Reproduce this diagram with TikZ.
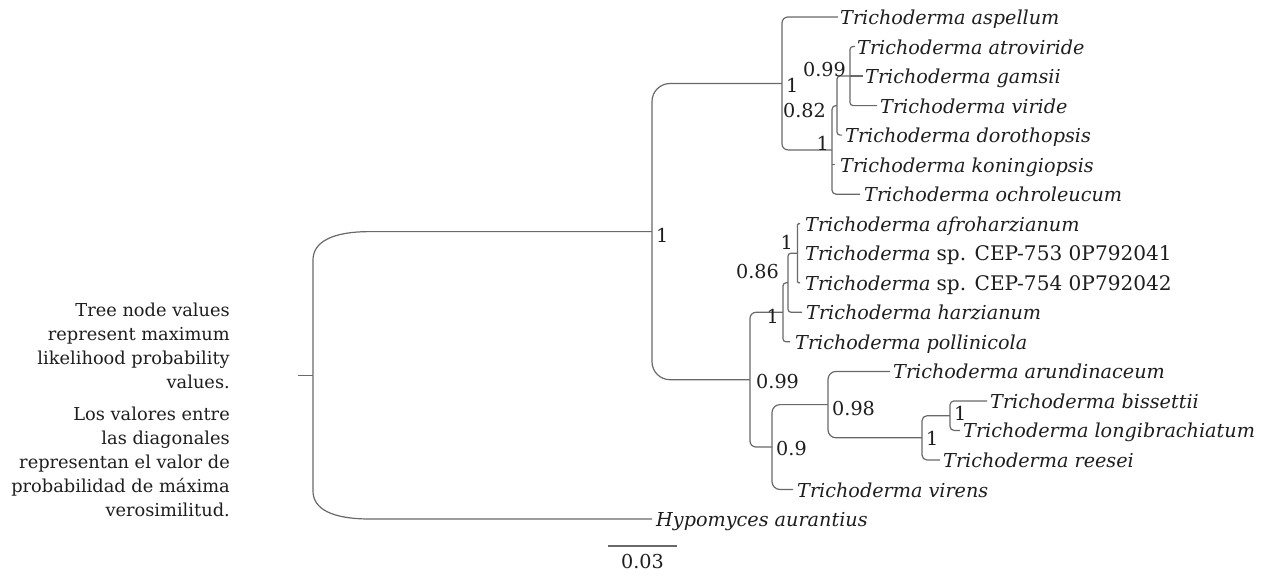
\documentclass[tikz,border=0pt]{standalone}
\usepackage{fontspec}
\setmainfont{DejaVu Serif}
\definecolor{brc}{RGB}{105,105,105}
\definecolor{txc}{RGB}{30,30,30}
\newcommand{\uppart}[1]{{\upshape\fontsize{20.1}{23}\selectfont #1}}
\begin{document}
\begin{tikzpicture}[x=1pt,y=-1pt,
  br/.style={draw=brc,line width=1.2pt},
  tip/.style={anchor=base west,inner sep=0pt,text=txc,font=\fontsize{19.2}{23}\selectfont\itshape},
  supl/.style={inner sep=0pt,text=txc,font=\fontsize{19.2}{23}\selectfont},
  note/.style={anchor=base east,inner sep=0pt,text=txc,font=\fontsize{17.8}{24}\selectfont}]
\useasboundingbox[fill=white] (0,0) rectangle (1266,574);
% tips (branch ends)
\coordinate (t1) at (838,17.0);
\coordinate (t2) at (855,46.5);
\coordinate (t3) at (863,76.0);
\coordinate (t4) at (877,105.6);
\coordinate (t5) at (842,135.1);
\coordinate (t6) at (835,164.6);
\coordinate (t7) at (860,194.2);
\coordinate (t8) at (800,223.7);
\coordinate (t10) at (800,282.8);
\coordinate (t11) at (802,312.3);
\coordinate (t12) at (790,341.8);
\coordinate (t13) at (890,371.4);
\coordinate (t14) at (987,400.9);
\coordinate (t15) at (960,430.4);
\coordinate (t16) at (940,460.0);
\coordinate (t17) at (793,489.5);
\coordinate (t18) at (652,519.0);
% internal nodes
\coordinate (n099) at (850,76.0);
\coordinate (n082) at (837,105.5);
\coordinate (n1a) at (832,149.9);
\coordinate (ntop) at (782,83.5);
\coordinate (nafro) at (797.5,253.2);
\coordinate (n086) at (788,282.8);
\coordinate (nharz) at (783,312.3);
\coordinate (nbb) at (950,415.7);
\coordinate (nree) at (922,437.8);
\coordinate (n098) at (828,404.6);
\coordinate (n09) at (772,447.0);
\coordinate (n099b) at (750,379.7);
\coordinate (n652) at (652,231.6);
\coordinate (root) at (313,375.3);
\coordinate (rstub) at (298,375.3);
% branches
\draw[br] (rstub) -- (root);
\draw[br] (root) -- (313,260) .. controls (313,242) and (332,231.6) .. (370,231.6) -- (n652);
\draw[br] (root) -- (313,491) .. controls (313,509) and (332,519) .. (370,519) -- (t18);
\draw[br,rounded corners=18pt] (n652) |- (ntop);
\draw[br,rounded corners=18pt] (n652) |- (n099b);
\draw[br,rounded corners=6pt] (ntop) |- (t1);
\draw[br,rounded corners=6pt] (ntop) |- (n1a);
\draw[br,rounded corners=4pt] (n1a) |- (n082);
\draw[br] (n1a |- t6) -- (t6);
\draw[br,rounded corners=4pt] (n1a) |- (t7);
\draw[br,rounded corners=3pt] (n082) |- (n099);
\draw[br,rounded corners=3pt] (n082) |- (t5);
\draw[br,rounded corners=3pt] (n099) |- (t2);
\draw[br] (n099) -- (t3);
\draw[br,rounded corners=3pt] (n099) |- (t4);
\draw[br,rounded corners=6pt] (n099b) |- (nharz);
\draw[br,rounded corners=6pt] (n099b) |- (n09);
\draw[br,rounded corners=3pt] (nharz) |- (n086);
\draw[br,rounded corners=3pt] (nharz) |- (t12);
\draw[br,rounded corners=3pt] (n086) |- (nafro);
\draw[br,rounded corners=3pt] (n086) |- (t11);
\draw[br,rounded corners=1pt] (nafro) |- (t8);
\draw[br,rounded corners=1pt] (nafro) |- (t10);
\draw[br,rounded corners=8pt] (n09) |- (n098);
\draw[br,rounded corners=8pt] (n09) |- (t17);
\draw[br,rounded corners=8pt] (n098) |- (t13);
\draw[br,rounded corners=8pt] (n098) |- (nree);
\draw[br,rounded corners=5pt] (nree) |- (nbb);
\draw[br,rounded corners=5pt] (nree) |- (t16);
\draw[br,rounded corners=4pt] (nbb) |- (t14);
\draw[br,rounded corners=4pt] (nbb) |- (t15);
% tip labels
\node[tip] (l1) at (840,24.5) {Trichoderma aspellum};
\node[tip] (l2) at (857,54.0) {Trichoderma atroviride};
\node[tip] (l3) at (865,83.5) {Trichoderma gamsii};
\node[tip] (l4) at (880,113.1) {Trichoderma viride};
\node[tip] (l5) at (845,142.6) {Trichoderma dorothopsis};
\node[tip] (l6) at (840,172.1) {Trichoderma koningiopsis};
\node[tip] (l7) at (864,201.7) {Trichoderma ochroleucum};
\node[tip] (l8) at (805,231.2) {Trichoderma afroharzianum};
\node[tip] (l9) at (805,260.7) {Trichoderma \uppart{sp. CEP-753 0P792041}};
\node[tip] (l10) at (805,290.3) {Trichoderma \uppart{sp. CEP-754 0P792042}};
\node[tip] (l11) at (806,319.8) {Trichoderma harzianum};
\node[tip] (l12) at (795,349.3) {Trichoderma pollinicola};
\node[tip] (l13) at (893,378.9) {Trichoderma arundinaceum};
\node[tip] (l14) at (990,408.4) {Trichoderma bissettii};
\node[tip] (l15) at (963,437.9) {Trichoderma longibrachiatum};
\node[tip] (l16) at (943,467.5) {Trichoderma reesei};
\node[tip] (l17) at (797,497.0) {Trichoderma virens};
\node[tip] (l18) at (656,526.5) {Hypomyces aurantius};
% support values
\node[supl,anchor=base west] (s652) at (656,242) {1};
\node[supl,anchor=base west] (stop) at (786,92) {1};
\node[supl,anchor=base east] (s099) at (846,76) {0.99};
\node[supl,anchor=base east] (s082) at (826,117) {0.82};
\node[supl,anchor=base east] (s1a) at (829,150) {1};
\node[supl,anchor=base east] (safro) at (793,249) {1};
\node[supl,anchor=base east] (s086) at (779,278) {0.86};
\node[supl,anchor=base east] (sharz) at (779,323) {1};
\node[supl,anchor=base west] (s099b) at (756,388) {0.99};
\node[supl,anchor=base west] (s09) at (776,455) {0.9};
\node[supl,anchor=base west] (s098) at (832,415) {0.98};
\node[supl,anchor=base west] (sree) at (926,445) {1};
\node[supl,anchor=base west] (sbb) at (954,420) {1};
% scale bar
\coordinate (sb1) at (608,546);
\coordinate (sb2) at (677,546);
\draw[br] (sb1) -- (sb2);
\node[supl,anchor=base] (sbl) at (642.5,568) {0.03};
% note
\node[note] (m1) at (230,316.7) {Tree node values};
\node[note] (m2) at (230,340.7) {represent maximum};
\node[note] (m3) at (230,364.7) {likelihood probability};
\node[note] (m4) at (230,388.7) {values.};
\node[note] (m5) at (230,420.7) {Los valores entre};
\node[note] (m6) at (230,444.7) {las diagonales};
\node[note] (m7) at (230,468.7) {representan el valor de};
\node[note] (m8) at (230,492.7) {probabilidad de máxima};
\node[note] (m9) at (230,516.7) {verosimilitud.};
\end{tikzpicture}
\end{document}
